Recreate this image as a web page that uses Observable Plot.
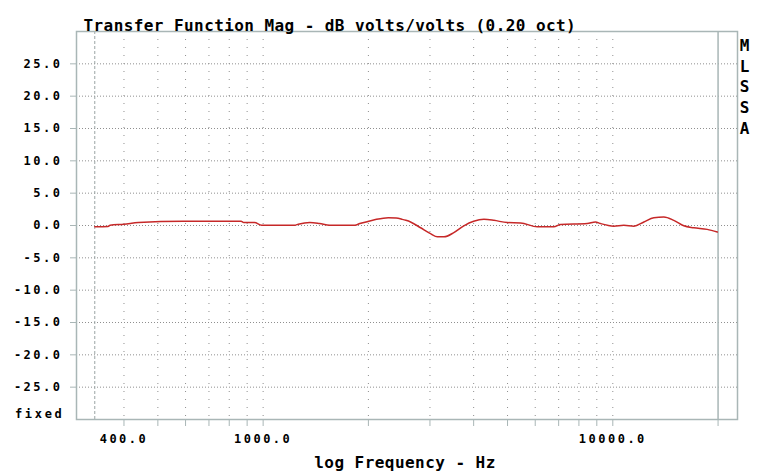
<!DOCTYPE html>
<html>
<head>
<meta charset="utf-8">
<script src="https://cdn.jsdelivr.net/npm/d3@7"></script>
<script src="https://cdn.jsdelivr.net/npm/@observablehq/plot@0.6"></script>
<style>
  html, body { margin: 0; padding: 0; background: #fff; }
  svg { font-family: "DejaVu Sans Mono", monospace; font-weight: bold; }
  g[aria-label="y-axis tick label"] text,
  g[aria-label="x-axis tick label"] text { letter-spacing: 2.5px; }
</style>
</head>
<body>
<div id="chart"></div>
<script>
const freq = [330, 360, 365, 400, 440, 590, 865, 880, 945, 990, 1230, 1260, 1360, 1450, 1550, 1830, 1890, 2020, 2110, 2280, 2400, 2500, 2560, 2640, 2820, 3010, 3150, 3290, 3510, 3750, 4000, 4280, 4570, 4990, 5450, 6080, 6780, 7090, 8450, 8920, 9220, 10070, 10750, 11490, 12270, 13100, 13990, 14940, 15960, 17050, 18620, 19900];
const magDb = [-0.2, -0.15, 0.05, 0.2, 0.45, 0.65, 0.65, 0.45, 0.45, 0.05, 0.05, 0.2, 0.45, 0.3, 0.05, 0.05, 0.3, 0.7, 0.95, 1.2, 1.15, 0.95, 0.8, 0.55, -0.35, -1.25, -1.75, -1.75, -1.1, -0.05, 0.65, 0.95, 0.8, 0.45, 0.4, -0.2, -0.2, 0.15, 0.3, 0.55, 0.3, -0.1, 0.05, -0.1, 0.55, 1.2, 1.3, 0.8, -0.05, -0.35, -0.6, -1.0];

const gridFreqs = [400, 500, 600, 700, 800, 900, 1000, 2000, 3000, 4000, 5000, 6000, 7000, 8000, 9000, 10000];
const tickFreqs = [400, 500, 600, 700, 800, 900, 1000, 2000, 3000, 4000, 5000, 6000, 7000, 8000, 9000, 10000, 20000];
const labeledFreqs = [400, 1000, 10000];
const yTicks = [-25, -20, -15, -10, -5, 0, 5, 10, 15, 20, 25];
const startMarker = [330];
const endMarker = [20000];

const titleText = "Transfer Function Mag - dB volts/volts (0.20 oct)";
const xLabel = "log Frequency - Hz";
const sideLabel = "M\nL\nS\nS\nA";
const scaleMode = "fixed";

const data = freq.map((f, i) => ({f, db: magDb[i]}));
const frameColor = "#a9b6b6";
const gridColor = "#8f8f8f";

const chart = Plot.plot({
  width: 760,
  height: 475,
  marginLeft: 76,
  marginRight: 23,
  marginTop: 31,
  marginBottom: 56,
  style: {background: "#fff", fontFamily: "DejaVu Sans Mono", fontSize: "12px", fontWeight: "bold", color: "#000"},
  x: {type: "log", domain: [292.6, 22730]},
  y: {domain: [-30, 30]},
  marks: [
    Plot.ruleY(yTicks, {y: d => d, stroke: gridColor, strokeDasharray: "1,2"}),
    Plot.ruleX(gridFreqs, {x: d => d, stroke: gridColor, strokeDasharray: "1,7"}),
    Plot.ruleX(startMarker, {x: d => d, stroke: "#9aa4a4", strokeDasharray: "3,2"}),
    Plot.ruleX(endMarker, {x: d => d, stroke: frameColor, strokeWidth: 1.5}),
    Plot.frame({stroke: frameColor, strokeWidth: 1.5}),
    Plot.axisY({ticks: yTicks, tickSize: 6, tickPadding: 8, tickFormat: d => d.toFixed(1), stroke: frameColor, fill: "#000", label: null}),
    Plot.axisX({ticks: tickFreqs, tickSize: 7, tickPadding: 8, tickFormat: d => labeledFreqs.includes(d) ? d.toFixed(1) : "", stroke: frameColor, fill: "#000", label: null}),
    Plot.line(data, {x: "f", y: "db", stroke: "#c62828", strokeWidth: 1.5, curve: "monotone-x"}),
    Plot.text([titleText], {text: d => d, frameAnchor: "top-left", dx: 7, dy: -12, textAnchor: "start", fontSize: 16, fill: "#000"}),
    Plot.text([xLabel], {text: d => d, frameAnchor: "bottom", dx: -2, dy: 48, fontSize: 16, fill: "#000"}),
    Plot.text([sideLabel], {text: d => d, frameAnchor: "top-right", dx: 12, dy: 5, lineAnchor: "top", lineHeight: 1.29, fontSize: 16, fill: "#000"}),
    Plot.text([scaleMode], {text: d => d, frameAnchor: "bottom-left", dx: -12, dy: -2, textAnchor: "end", fontSize: 12, fill: "#000"})
  ]
});
document.getElementById("chart").appendChild(chart);

// letter spacing tweaks to mimic the wide bitmap font
const spacing = new Map([[titleText, "0.42px"], [xLabel, "0.45px"], [scaleMode, "2.7px"]]);
d3.select(chart).selectAll("text").each(function () {
  const s = spacing.get(this.textContent);
  if (s) this.style.letterSpacing = s;
});
</script>
</body>
</html>
